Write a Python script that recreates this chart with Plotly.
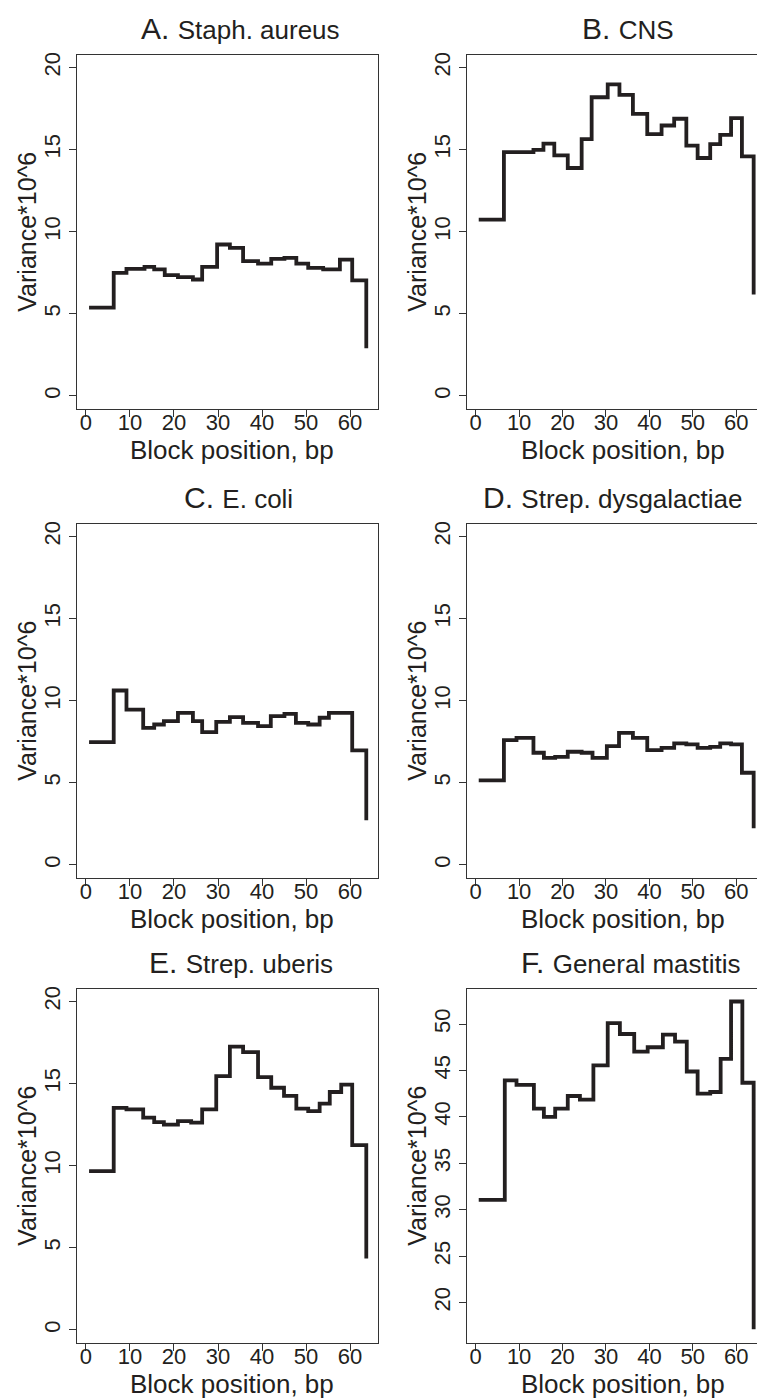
import plotly.graph_objects as go

W, H = 757, 1398

# ---------------- data ----------------
titles_letter = ["A.", "B.", "C.", "D.", "E.", "F."]
titles_name = ["Staph. aureus", "CNS", "E. coli", "Strep. dysgalactiae",
               "Strep. uberis", "General mastitis"]

A_x = [0.7, 6.3, 9.2, 13.3, 15.5, 17.9, 20.9, 24.3, 26.4, 29.8, 32.7, 35.7, 39.1, 42.1, 45.1, 47.8, 50.5, 53.9, 57.7, 60.5, 63.7]
A_y = [5.37, 7.49, 7.74, 7.86, 7.70, 7.35, 7.23, 7.09, 7.86, 9.22, 9.02, 8.21, 8.06, 8.35, 8.41, 8.06, 7.80, 7.70, 8.30, 7.03, 2.9]

B_x = [0.7, 6.5, 13.3, 15.6, 18.1, 21.2, 24.4, 26.7, 30.4, 33.1, 36.2, 39.5, 42.8, 45.7, 48.5, 51.1, 54.0, 56.3, 58.8, 61.3, 64.0]
B_y = [10.74, 14.85, 14.99, 15.36, 14.65, 13.88, 15.64, 18.19, 18.98, 18.34, 17.18, 15.95, 16.47, 16.88, 15.24, 14.49, 15.34, 15.90, 16.92, 14.59, 6.18]

C_x = [0.7, 6.3, 9.2, 13.0, 15.5, 17.7, 20.9, 24.3, 26.4, 29.6, 32.7, 35.7, 39.1, 42.0, 45.1, 47.7, 50.5, 53.1, 55.2, 60.5, 63.7]
C_y = [7.48, 10.62, 9.46, 8.35, 8.55, 8.75, 9.26, 8.75, 8.09, 8.71, 9.00, 8.65, 8.45, 9.06, 9.20, 8.65, 8.55, 8.96, 9.26, 6.97, 2.71]

D_x = [0.7, 6.5, 9.4, 13.3, 15.7, 18.3, 21.2, 24.4, 26.9, 30.2, 33.0, 36.2, 39.5, 42.8, 45.7, 48.5, 51.1, 54.0, 56.3, 58.8, 61.3, 64.0]
D_y = [5.15, 7.60, 7.74, 6.83, 6.52, 6.58, 6.89, 6.83, 6.52, 7.23, 8.04, 7.74, 6.99, 7.13, 7.40, 7.34, 7.13, 7.19, 7.40, 7.34, 5.61, 2.23]

E_x = [0.7, 6.3, 9.2, 13.0, 15.5, 17.7, 20.9, 23.9, 26.4, 29.6, 32.7, 35.7, 39.1, 42.1, 45.0, 47.8, 50.5, 53.1, 55.4, 58.0, 60.5, 63.7]
E_y = [9.67, 13.52, 13.43, 12.93, 12.66, 12.50, 12.72, 12.62, 13.43, 15.46, 17.26, 16.92, 15.40, 14.75, 14.25, 13.48, 13.33, 13.78, 14.49, 14.94, 11.25, 4.34]

F_x = [0.7, 6.7, 9.4, 13.4, 15.7, 18.3, 21.2, 24.0, 27.1, 30.4, 33.2, 36.5, 39.6, 43.1, 45.9, 48.6, 51.1, 54.0, 56.4, 58.8, 61.4, 64.0]
F_y = [31.07, 43.93, 43.46, 40.89, 40.0, 40.89, 42.25, 41.86, 45.54, 50.1, 48.93, 47.04, 47.5, 48.86, 48.1, 44.89, 42.5, 42.68, 46.25, 52.43, 43.68, 17.14]

x_ticks = [0, 10, 20, 30, 40, 50, 60]
y_ticks_std = [0, 5, 10, 15, 20]
y_ticks_F = [20, 25, 30, 35, 40, 45, 50]

x_title = "Block position, bp"
y_title = "Variance*10^6"

series = [(A_x, A_y), (B_x, B_y), (C_x, C_y), (D_x, D_y), (E_x, E_y), (F_x, F_y)]

# ---------------- layout (pixels) ----------------
INK = "#231f20"
FONT = "Liberation Sans, Arial, Helvetica, sans-serif"

col_px = [(76.7, 378.0), (467.0, 757.0)]
col_xrange = [[-2.11, 66.36], [-2.0, 64.77]]
row_px = [(51.7, 406.7), (521.7, 876.7), (987.7, 1342.7)]
yrange_std = [-0.79, 20.79]
yrange_F = [15.67, 53.82]

title_cx = [240, 628, 238, 612, 241, 631]
xtitle_cx = [232, 623]
ytitle_cx = [27, 417]


def px2x(p):
    return p / W


def px2y(p):
    return 1 - p / H


fig = go.Figure()
annotations = []

for i, (xs, ys) in enumerate(series):
    r, c = divmod(i, 2)
    n = i + 1
    xa = "x" if n == 1 else f"x{n}"
    ya = "y" if n == 1 else f"y{n}"
    fig.add_trace(go.Scatter(
        x=xs, y=ys, mode="lines", line=dict(shape="hv", color=INK, width=3.8),
        xaxis=xa, yaxis=ya, showlegend=False, hoverinfo="skip"))

    x0, x1 = col_px[c]
    y0, y1 = row_px[r]
    is_F = (i == 5)
    axis_common = dict(
        showgrid=False, zeroline=False, showline=True, linecolor="#333333",
        linewidth=1.3, ticks="outside", ticklen=7, tickwidth=1.2, tickcolor="#333333",
        tickfont=dict(family=FONT, size=22, color=INK))
    fig.layout[("xaxis" if n == 1 else f"xaxis{n}")] = dict(
        domain=[px2x(x0), min(1.0, px2x(x1))], range=col_xrange[c],
        anchor=ya, tickmode="array", tickvals=x_ticks, mirror=True,
        ticklabelstandoff=-13, **axis_common)
    fig.layout[("yaxis" if n == 1 else f"yaxis{n}")] = dict(
        domain=[px2y(y1), px2y(y0)], range=yrange_F if is_F else yrange_std,
        anchor=xa, tickmode="array", tickvals=y_ticks_F if is_F else y_ticks_std,
        tickangle=-90, mirror=(c == 0), ticklabelstandoff=0, **axis_common)

    # panel title
    annotations.append(dict(
        x=px2x(title_cx[i]), y=px2y(y0 - 26.5), xref="paper", yref="paper",
        xanchor="center", yanchor="middle", showarrow=False,
        text=f"{titles_letter[i]} <span style='font-size:26px'>{titles_name[i]}</span>",
        font=dict(family=FONT, size=30, color=INK)))
    # x title
    annotations.append(dict(
        x=px2x(xtitle_cx[c]), y=px2y(y1 + 41.5), xref="paper", yref="paper",
        xanchor="center", yanchor="middle", showarrow=False, text=x_title,
        font=dict(family=FONT, size=26, color=INK)))
    # y title
    annotations.append(dict(
        x=px2x(ytitle_cx[c]), y=px2y((y0 + y1) / 2), xref="paper", yref="paper",
        xanchor="center", yanchor="middle", showarrow=False, text=y_title,
        textangle=-90, font=dict(family=FONT, size=25, color=INK)))

fig.update_layout(
    width=W, height=H, margin=dict(l=0, r=0, t=0, b=0),
    paper_bgcolor="white", plot_bgcolor="white",
    annotations=annotations, showlegend=False)

fig.write_html("out.html")
